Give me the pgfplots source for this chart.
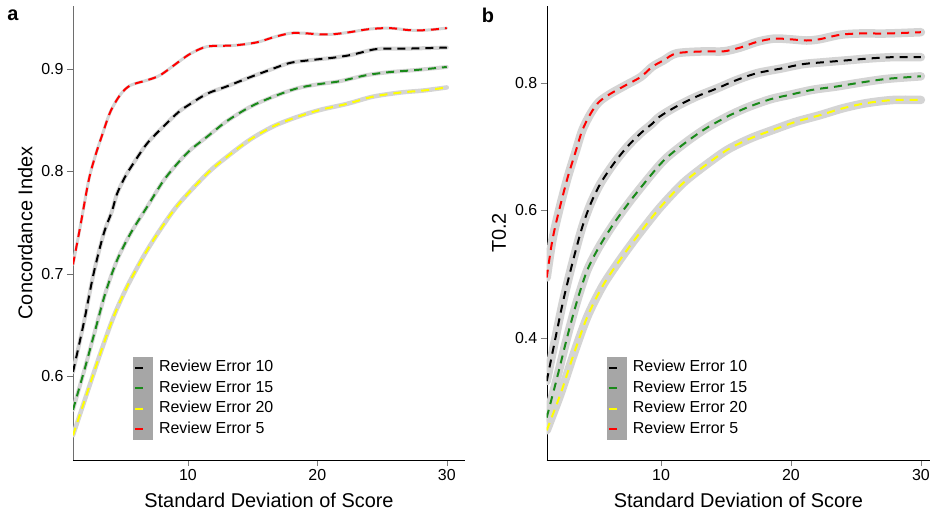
\documentclass[border=0pt]{standalone}
\usepackage{pgfplots}
\pgfplotsset{compat=1.18}
\usepackage{pgfplotstable}
\usepackage{fontspec}
\setmainfont{Liberation Sans}
\definecolor{cgreen}{HTML}{1A8A1A}
\definecolor{cyellow}{HTML}{FFFF00}
\definecolor{cred}{HTML}{FF0000}
\definecolor{band}{HTML}{D4D4D4}
\definecolor{legkey}{HTML}{A6A6A6}
\definecolor{axgray}{HTML}{6E6E6E}

\pgfplotstableread{
x y
1.12 0.709
1.68 0.746
2.33 0.791
2.84 0.815
3.36 0.835
4.0 0.858
4.78 0.875
5.55 0.884
6.83 0.889
7.86 0.894
9.28 0.907
10.2 0.915
11.5 0.922
13.5 0.923
15.3 0.926
16.6 0.931
17.9 0.935
19.0 0.935
20.0 0.934
21.2 0.934
22.5 0.936
24.0 0.939
25.6 0.940
27.1 0.938
28.4 0.938
30.0 0.940
}\aRed
\pgfplotstableread{
x y
1.12 0.604
1.94 0.651
2.71 0.700
3.49 0.739
4.13 0.761
4.52 0.778
5.16 0.795
5.8 0.808
6.83 0.827
8.12 0.844
9.28 0.858
10.2 0.866
11.5 0.876
13.0 0.883
14.8 0.892
16.3 0.899
17.9 0.906
19.7 0.909
21.2 0.911
22.7 0.914
24.3 0.919
25.3 0.920
27.1 0.920
30.0 0.921
}\aBlack
\pgfplotstableread{
x y
1.12 0.567
2.07 0.609
2.84 0.645
3.62 0.681
4.52 0.713
5.55 0.739
6.83 0.765
8.12 0.791
9.28 0.809
10.2 0.821
11.5 0.834
13.0 0.849
14.8 0.863
16.6 0.873
18.4 0.881
20.0 0.885
21.7 0.888
23.8 0.894
25.6 0.897
27.6 0.899
30.0 0.902
}\aGreen
\pgfplotstableread{
x y
1.12 0.542
2.2 0.583
3.23 0.622
4.26 0.658
5.29 0.687
6.57 0.717
7.86 0.743
9.28 0.768
11.5 0.798
13.0 0.814
14.8 0.831
16.6 0.844
18.4 0.853
20.2 0.860
22.3 0.866
24.3 0.873
26.4 0.877
28.2 0.879
30.0 0.882
}\aYellow
\pgfplotstableread{
x y
1.2 0.495
1.64 0.554
2.15 0.600
2.79 0.650
3.44 0.693
3.95 0.726
4.59 0.752
5.23 0.770
6.13 0.783
7.28 0.796
8.44 0.809
9.33 0.825
10.2 0.835
11.2 0.846
13.3 0.849
14.8 0.849
16.1 0.855
17.4 0.864
18.7 0.869
19.9 0.868
21.2 0.866
22.2 0.868
23.8 0.875
25.3 0.877
27.4 0.877
30.0 0.879
}\bRed
\pgfplotstableread{
x y
1.2 0.333
1.9 0.403
2.54 0.465
3.31 0.528
3.95 0.575
4.59 0.611
5.36 0.643
6.38 0.674
7.41 0.700
8.44 0.721
9.33 0.736
9.9 0.747
11.2 0.763
12.7 0.778
14.3 0.791
15.8 0.804
17.4 0.815
19.2 0.822
20.9 0.829
22.5 0.832
24.3 0.835
26.1 0.838
27.9 0.840
30.0 0.840
}\bBlack
\pgfplotstableread{
x y
1.2 0.276
2.02 0.340
2.79 0.403
3.56 0.460
4.33 0.507
5.23 0.543
6.38 0.580
7.67 0.616
9.33 0.658
10.4 0.682
12.0 0.708
13.5 0.729
15.1 0.747
16.6 0.761
18.4 0.774
19.9 0.781
21.7 0.789
23.5 0.794
25.3 0.800
27.4 0.806
30.0 0.810
}\bGreen
\pgfplotstableread{
x y
1.2 0.256
2.28 0.314
3.31 0.377
4.33 0.434
5.48 0.481
6.64 0.517
7.92 0.553
9.33 0.590
10.2 0.611
11.7 0.643
13.3 0.669
15.1 0.695
16.9 0.713
18.6 0.726
20.4 0.739
22.2 0.749
24.0 0.760
25.8 0.768
27.9 0.773
30.0 0.773
}\bYellow

\pgfplotsset{
  mystyle/.style={
    scale only axis,
    anchor=south west,
    axis x line*=bottom,
    axis y line*=left,
    tick align=outside,
    major tick length=6bp,
    xtick={10,20,30},
    tick label style={font=\fontsize{16}{19}\selectfont},
    label style={font=\fontsize{20}{24}\selectfont},
    xlabel style={yshift=-5bp},
    ylabel style={yshift=2bp},
    /pgf/number format/assume math mode=true,
    xlabel={Standard Deviation of Score},
    legend cell align=left,
    legend style={draw=none, fill=none, inner sep=0pt, row sep=4.5bp,
      font=\fontsize{16}{20}\selectfont,
      nodes={inner xsep=0pt, inner ysep=0pt, text height=12bp, text depth=4bp},
      /tikz/every odd column/.append style={column sep=14.7bp},
      anchor=north west},
    legend image code/.code={
      \fill[legkey, overlay, draw=none] (-2bp,-11bp) rectangle (18bp,11bp);
      \draw[#1, solid, line width=2bp] (0bp,0bp) -- (8bp,0bp);
    },
  },
  bandline/.style={band, line width=#1, line join=round, line cap=round, smooth, forget plot},
  dline/.style={#1, line width=2bp, dash pattern=on 8bp off 6bp, smooth},
}

\begin{document}
\begin{tikzpicture}
\useasboundingbox (0,0) rectangle (931bp,516bp);
\begin{axis}[mystyle,
  at={(73bp,56bp)}, width=392bp, height=454bp,
  xmin=1.12, xmax=31.41, ymin=0.5179, ymax=0.9616,
  ytick={0.6,0.7,0.8,0.9},
  y axis line style={draw=axgray},
  ytick style={draw=axgray},
  ylabel={Concordance Index},
  legend style={at={(axis description cs:0.156,0.221)}},
]
\addplot[bandline=4bp] table {\aBlack};
\addplot[bandline=4bp] table {\aGreen};
\addplot[bandline=4.5bp] table {\aYellow};
\addplot[bandline=3bp] table {\aRed};
\addplot[dline=black] table {\aBlack};
\addlegendentry{Review Error 10}
\addplot[dline=cgreen] table {\aGreen};
\addlegendentry{Review Error 15}
\addplot[dline=cyellow] table {\aYellow};
\addlegendentry{Review Error 20}
\addplot[dline=cred] table {\aRed};
\addlegendentry{Review Error 5}
\end{axis}
\begin{axis}[mystyle,
  at={(546.7bp,56bp)}, width=383.3bp, height=454bp,
  xmin=1.2, xmax=30.7, ymin=0.2096, ymax=0.92,
  ytick={0.4,0.6,0.8},
  ylabel={T0.2},
  legend style={at={(axis description cs:0.160,0.221)}},
]
\addplot[bandline=8.5bp] table {\bBlack};
\addplot[bandline=8.5bp] table {\bGreen};
\addplot[bandline=8.5bp] table {\bYellow};
\addplot[bandline=8.5bp] table {\bRed};
\addplot[dline=black] table {\bBlack};
\addlegendentry{Review Error 10}
\addplot[dline=cgreen] table {\bGreen};
\addlegendentry{Review Error 15}
\addplot[dline=cyellow] table {\bYellow};
\addlegendentry{Review Error 20}
\addplot[dline=cred] table {\bRed};
\addlegendentry{Review Error 5}
\end{axis}
\node[font=\fontsize{20}{24}\selectfont\bfseries] at (13bp,501bp) {a};
\node[font=\fontsize{20}{24}\selectfont\bfseries] at (488bp,501bp) {b};
\end{tikzpicture}
\end{document}
